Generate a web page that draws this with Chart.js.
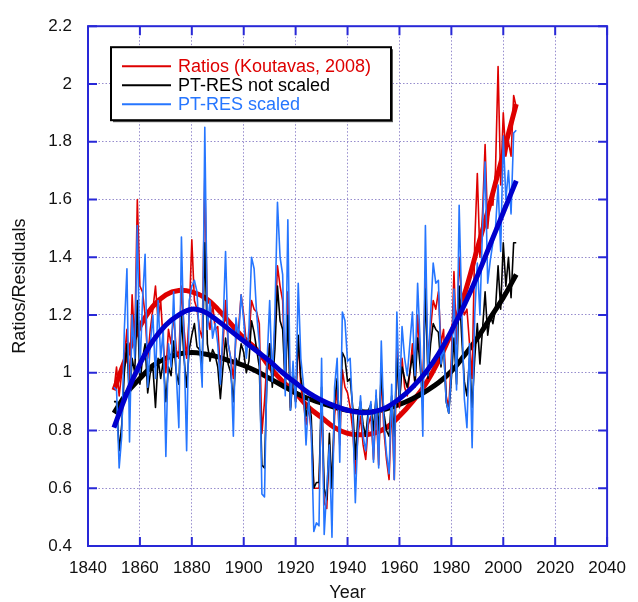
<!DOCTYPE html>
<html lang="en">
<head>
<meta charset="UTF-8">
<title>Ratios/Residuals</title>
<script src="https://cdn.jsdelivr.net/npm/chart.js"></script>
<style>
    body { margin: 0; background: #fff; }
    #chartContainer { width: 638px; height: 602px; }
</style>
</head>
<body>
<div id="chartContainer"><canvas id="chartCanvas"></canvas></div>
<script>
// annual series, 1850 .. 2005
const startYear = 1850;

const ratios = [
    0.94, 1.02, 0.92, 1.00, 1.05, 1.15, 0.95, 1.27, 1.10, 1.60,
    1.30, 1.28, 1.20, 1.05, 1.15, 1.22, 1.30, 1.18, 1.25, 1.10,
    1.00, 1.15, 1.10, 1.20, 1.08, 1.05, 1.30, 1.15, 1.05, 1.20,
    1.46, 1.25, 1.22, 1.15, 1.12, 1.68, 1.20, 1.15, 1.24, 1.15,
    1.16, 1.00, 1.10, 1.25, 1.10, 1.05, 0.98, 1.12, 1.15, 1.27,
    1.20, 1.10, 1.12, 1.25, 1.22, 1.21, 1.17, 0.79, 0.90, 1.05,
    1.10, 1.00, 1.15, 1.37, 1.30, 1.25, 0.95, 1.28, 0.88, 1.00,
    0.90, 1.12, 0.95, 0.90, 0.82, 0.88, 0.80, 0.60, 0.60, 0.60,
    0.90, 0.55, 0.53, 0.75, 0.60, 0.85, 0.95, 0.75, 1.01, 0.95,
    0.93, 0.88, 0.80, 0.65, 0.78, 0.85, 0.75, 0.70, 0.82, 0.85,
    0.70, 0.88, 0.68, 1.00, 0.80, 0.70, 0.63, 0.90, 0.63, 1.10,
    0.88, 1.05, 0.95, 0.92, 1.00, 1.10, 0.95, 1.20, 1.05, 0.95,
    1.35, 1.05, 1.15, 1.25, 1.22, 1.28, 1.10, 1.15, 0.92, 0.88,
    1.05, 1.35, 1.10, 1.40, 1.25, 1.20, 1.22, 1.10, 0.98, 1.45,
    1.69, 1.40, 1.55, 1.79, 1.50, 1.60, 1.58, 1.70, 2.06, 1.65,
    1.90, 1.75, 1.80, 1.75, 1.96, 1.92
];

const ptresNotScaled = [
    0.90, 0.90, 0.73, 0.82, 1.00, 1.10, 0.90, 1.05, 1.00, 1.25,
    0.96, 1.05, 1.10, 0.93, 1.00, 1.02, 0.88, 1.05, 0.98, 1.04,
    0.90, 1.02, 0.99, 1.11, 1.00, 0.96, 1.20, 1.05, 0.95, 1.08,
    1.13, 1.17, 1.09, 1.08, 1.02, 1.45, 1.10, 1.04, 1.08, 1.06,
    1.02, 0.91, 1.02, 1.12, 1.03, 1.00, 0.90, 1.05, 1.03, 1.10,
    1.07, 1.00, 1.04, 1.18, 1.14, 1.08, 1.02, 0.68, 0.67, 1.00,
    1.10, 0.95, 1.08, 1.30, 1.18, 1.15, 0.95, 1.20, 0.87, 1.00,
    0.90, 1.13, 0.98, 0.93, 0.85, 0.90, 0.85, 0.60, 0.62, 0.62,
    0.95, 0.60, 0.56, 0.79, 0.60, 0.90, 0.98, 0.80, 1.07, 1.05,
    0.97, 0.98, 0.88, 0.70, 0.85, 0.90, 0.82, 0.78, 0.87, 0.89,
    0.80, 0.92, 0.80, 1.00, 0.86, 0.80, 0.78, 0.92, 0.78, 1.05,
    0.90, 1.02, 0.98, 0.95, 1.00, 1.06, 0.96, 1.12, 1.02, 0.90,
    1.29, 0.98, 1.10, 1.17, 1.15, 1.14, 1.02, 1.10, 0.90, 0.86,
    0.98, 1.12, 0.96, 1.30, 1.12, 0.97, 0.92, 1.05, 0.88, 1.05,
    1.17, 1.03, 1.15, 1.28, 1.13, 1.20, 1.17, 1.22, 1.37, 1.22,
    1.45, 1.30, 1.40, 1.26, 1.45, 1.45
];

const ptresScaled = [
    0.95, 0.94, 0.67, 0.78, 1.15, 1.36, 0.76, 1.20, 1.05, 1.51,
    1.00, 1.25, 1.41, 0.95, 1.10, 1.20, 0.98, 1.25, 1.05, 1.15,
    0.71, 1.10, 1.02, 1.28, 1.00, 0.81, 1.47, 1.10, 0.73, 1.25,
    1.30, 1.32, 1.28, 1.10, 0.95, 1.85, 1.15, 1.25, 1.12, 1.17,
    1.10, 0.96, 1.15, 1.42, 1.10, 1.05, 0.78, 1.19, 1.12, 1.27,
    1.18, 1.05, 1.15, 1.40, 1.36, 1.20, 1.10, 0.58, 0.57, 1.04,
    1.25, 0.97, 1.20, 1.59, 1.40, 1.34, 0.92, 1.53, 0.87, 1.04,
    0.88, 1.31, 1.05, 0.96, 0.75, 0.91, 0.80, 0.45, 0.48, 0.47,
    1.05, 0.44, 0.60, 0.75, 0.43, 0.95, 1.05, 0.69, 1.21, 1.18,
    1.04, 1.05, 0.85, 0.55, 0.80, 0.92, 0.78, 0.73, 0.85, 0.90,
    0.69, 0.94, 0.67, 1.11, 0.83, 0.72, 0.65, 0.96, 0.63, 1.21,
    0.91, 1.16, 1.05, 0.99, 1.10, 1.21, 0.99, 1.31, 1.10, 0.78,
    1.51, 0.99, 1.20, 1.38, 1.31, 1.32, 1.03, 1.10, 0.90, 0.86,
    1.00, 1.29, 0.94, 1.58, 1.22, 0.91, 0.81, 1.10, 0.74, 1.20,
    1.38, 1.20, 1.50, 1.73, 1.31, 1.39, 1.45, 1.50, 1.65, 1.42,
    1.82, 1.60, 1.70, 1.55, 1.83, 1.84
];

// smooth fitted curves, read every 5 years
const fitYears = [1850, 1855, 1860, 1865, 1870, 1875, 1880, 1885, 1890, 1895,
                  1900, 1905, 1910, 1915, 1920, 1925, 1930, 1935, 1940, 1945,
                  1950, 1955, 1960, 1965, 1970, 1975, 1980, 1985, 1990, 1995,
                  2000, 2005];
const ratiosFit = [0.94, 1.06, 1.16, 1.23, 1.27, 1.285, 1.28, 1.26, 1.22, 1.17,
                   1.12, 1.08, 1.02, 0.97, 0.93, 0.88, 0.845, 0.81, 0.79, 0.785,
                   0.79, 0.81, 0.85, 0.90, 0.96, 1.04, 1.14, 1.27, 1.43, 1.59,
                   1.76, 1.93];
const notScaledFit = [0.86, 0.93, 0.98, 1.025, 1.05, 1.065, 1.07, 1.065, 1.055, 1.04,
                      1.025, 1.005, 0.98, 0.955, 0.93, 0.91, 0.895, 0.88, 0.87, 0.865,
                      0.865, 0.875, 0.89, 0.91, 0.935, 0.965, 1.005, 1.06, 1.12, 1.19,
                      1.26, 1.34];
const scaledFit = [0.81, 0.93, 1.03, 1.11, 1.165, 1.20, 1.22, 1.21, 1.18, 1.145,
                   1.11, 1.075, 1.04, 1.00, 0.965, 0.93, 0.905, 0.885, 0.87, 0.862,
                   0.865, 0.88, 0.91, 0.95, 1.00, 1.065, 1.145, 1.235, 1.335, 1.445,
                   1.555, 1.665];

const seriesNames = ['Ratios (Koutavas, 2008)', 'PT-RES not scaled', 'PT-RES scaled'];

const RED = 'rgb(222,0,0)';
const BLACK = '#000';
const LIGHTBLUE = 'rgb(38,118,255)';
const DARKBLUE = 'rgb(0,0,205)';
const AXIS = 'rgb(40,40,215)';
const GRID = 'rgb(150,140,205)';
const FONT = '"Liberation Sans", Arial, sans-serif';

function annual(values) {
    return values.map((v, i) => ({ x: startYear + i, y: v }));
}
function fitted(values) {
    return values.map((v, i) => ({ x: fitYears[i], y: v }));
}

// frame with inward ticks on all four sides
const framePlugin = {
    id: 'frame',
    afterDatasetsDraw(chart) {
        const { ctx, chartArea: a, scales } = chart;
        ctx.save();
        ctx.strokeStyle = AXIS;
        ctx.lineWidth = 2;
        ctx.strokeRect(a.left, a.top, a.right - a.left, a.bottom - a.top);
        const len = 9;
        ctx.beginPath();
        scales.x.ticks.forEach(t => {
            const px = scales.x.getPixelForValue(t.value);
            ctx.moveTo(px, a.bottom); ctx.lineTo(px, a.bottom - len);
            ctx.moveTo(px, a.top); ctx.lineTo(px, a.top + len);
        });
        scales.y.ticks.forEach(t => {
            const py = scales.y.getPixelForValue(t.value);
            ctx.moveTo(a.left, py); ctx.lineTo(a.left + len, py);
            ctx.moveTo(a.right, py); ctx.lineTo(a.right - len, py);
        });
        ctx.stroke();
        ctx.restore();
    }
};

// boxed legend in the upper left of the plot
const legendBox = {
    id: 'legendBox',
    afterDraw(chart) {
        const { ctx, chartArea: a } = chart;
        const x = a.left + 23, y = a.top + 21, w = 280, h = 73;
        ctx.save();
        ctx.fillStyle = '#555';
        ctx.fillRect(x + 2, y + 2, w, h);
        ctx.fillStyle = '#fff';
        ctx.fillRect(x, y, w, h);
        ctx.strokeStyle = '#000';
        ctx.lineWidth = 2;
        ctx.strokeRect(x, y, w, h);
        ctx.font = '18px ' + FONT;
        ctx.textBaseline = 'middle';
        const items = chart.data.datasets
            .filter(d => d.legendIndex !== undefined)
            .sort((p, q) => p.legendIndex - q.legendIndex);
        items.forEach((d, i) => {
            const ly = y + 19 + i * 19;
            ctx.strokeStyle = d.borderColor;
            ctx.lineWidth = 2;
            ctx.beginPath();
            ctx.moveTo(x + 11, ly); ctx.lineTo(x + 60, ly);
            ctx.stroke();
            ctx.fillStyle = d.borderColor;
            ctx.fillText(d.label, x + 67, ly + 1);
        });
        ctx.restore();
    }
};

const ctx = document.getElementById('chartCanvas').getContext('2d');
new Chart(ctx, {
    type: 'line',
    data: {
        datasets: [
            { label: 'scaled fit', data: fitted(scaledFit), borderColor: DARKBLUE, borderWidth: 5, tension: 0.4 },
            { label: seriesNames[2], data: annual(ptresScaled), borderColor: LIGHTBLUE, borderWidth: 1.6, legendIndex: 2 },
            { label: seriesNames[1], data: annual(ptresNotScaled), borderColor: BLACK, borderWidth: 1.6, legendIndex: 1 },
            { label: seriesNames[0], data: annual(ratios), borderColor: RED, borderWidth: 1.6, legendIndex: 0 },
            { label: 'not scaled fit', data: fitted(notScaledFit), borderColor: BLACK, borderWidth: 5, tension: 0.4 },
            { label: 'ratios fit', data: fitted(ratiosFit), borderColor: RED, borderWidth: 5, tension: 0.4 }
        ].map(d => Object.assign({ pointRadius: 0, fill: false, borderJoinStyle: 'round' }, d))
    },
    options: {
        responsive: true,
        maintainAspectRatio: false,
        animation: false,
        layout: { padding: { left: 0, right: 24, top: 20, bottom: 0 } },
        plugins: {
            legend: { display: false },
            tooltip: { enabled: false }
        },
        scales: {
            x: {
                type: 'linear',
                min: 1840, max: 2040,
                afterFit: s => { s.height = 56; },
                ticks: {
                    stepSize: 20, maxRotation: 0, padding: 12,
                    color: '#111', font: { family: FONT, size: 17 },
                    callback: v => String(v)
                },
                grid: { color: GRID, lineWidth: 1, drawTicks: false },
                border: { display: false, dash: [1.5, 2] },
                title: { display: true, text: 'Year', color: '#111', font: { family: FONT, size: 18, lineHeight: 1 }, padding: { top: 0, bottom: 0 } }
            },
            y: {
                min: 0.4, max: 2.2,
                afterFit: s => { s.width = 88; },
                ticks: {
                    stepSize: 0.2, padding: 16,
                    color: '#111', font: { family: FONT, size: 17 },
                    callback: v => String(Math.round(v * 10) / 10)
                },
                grid: { color: GRID, lineWidth: 1, drawTicks: false },
                border: { display: false, dash: [1.5, 2] },
                title: { display: true, text: 'Ratios/Residuals', color: '#111', font: { family: FONT, size: 18, lineHeight: 1 }, padding: { top: 11, bottom: 0 } }
            }
        }
    },
    plugins: [framePlugin, legendBox]
});
</script>
</body>
</html>
